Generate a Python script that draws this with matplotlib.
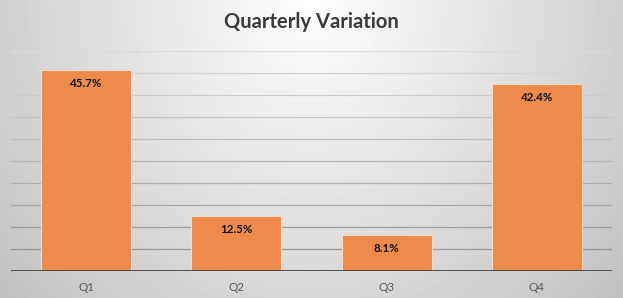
import numpy as np
import matplotlib
matplotlib.use("Agg")
import matplotlib.pyplot as plt

quarters = ["Q1", "Q2", "Q3", "Q4"]
variation = [45.7, 12.5, 8.1, 42.4]
bar_labels = ["45.7%", "12.5%", "8.1%", "42.4%"]

W, H = 623, 298
fig = plt.figure(figsize=(W / 100, H / 100), dpi=100)

# fond dégradé (blanc en haut au centre, gris vers les bords)
yy, xx = np.mgrid[0:H, 0:W]
drop = np.sqrt((47 * (xx - 311) / 311) ** 2 + (35 * yy / 258) ** 2)
bg = np.clip(255 - drop, 0, 255) / 255
bg_ax = fig.add_axes([0, 0, 1, 1], zorder=-10)
bg_ax.imshow(bg, cmap="gray", vmin=0, vmax=1, aspect="auto", interpolation="bilinear")
bg_ax.axis("off")

ax = fig.add_axes([11 / W, (H - 271) / H, 601 / W, 220 / H])
ax.patch.set_alpha(0)

x = np.arange(len(quarters))
bars = ax.bar(x, variation, width=0.6, color="#EC8B4C", edgecolor="#F7D9C4",
              linewidth=0.8, zorder=3)

ax.set_xlim(-0.5, len(quarters) - 0.5)
ax.set_ylim(0, 50)

# lignes de grille (plus foncées vers le bas)
grid_vals = np.arange(5, 51, 5)
for v in grid_vals:
    t = v / 50
    g = 0.56 + t * (0.86 - 0.56)
    ax.axhline(v, color=(g, g, g), linewidth=0.9, zorder=1)
ax.axhline(0, color="#404040", linewidth=2, zorder=4)

for b, lab in zip(bars, bar_labels):
    ax.annotate(lab, (b.get_x() + b.get_width() / 2, b.get_height()),
                xytext=(0, -9.5), textcoords="offset points",
                ha="center", va="center", fontsize=8.3, fontweight="bold",
                color="#111111", family="Lato", zorder=5)

ax.set_xticks(x)
ax.set_xticklabels(quarters, fontsize=8.5, color="#595959", family="Lato")
ax.tick_params(axis="x", length=0, pad=8)
ax.set_yticks([])
for s in ax.spines.values():
    s.set_visible(False)

fig.text(0.5, 1 - 22 / H, "Quarterly Variation", ha="center", va="center",
         fontsize=14.5, fontweight="bold", color="#3a3a3a", family="Lato")

fig.savefig("out.png", dpi=100)
